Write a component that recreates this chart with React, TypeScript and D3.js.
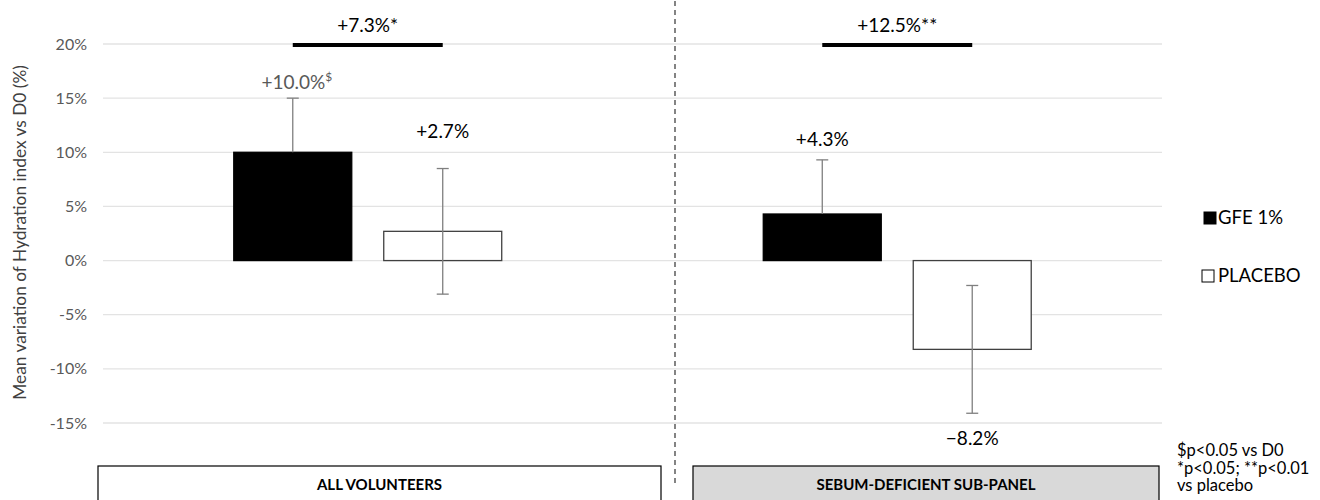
import * as d3 from "d3";
import * as React from "react";

// data
const groups = ["ALL VOLUNTEERS", "SEBUM-DEFICIENT SUB-PANEL"];
const series = ["GFE 1%", "PLACEBO"];
const gfeValues = [10.0, 4.3];
const gfeErrors = [5.0, 5.0];
const placeboValues = [2.7, -8.2];
const placeboErrors = [5.8, 5.9];
const valueLabels = [
  ["+10.0%", "+4.3%"],
  ["+2.7%", "\u22128.2%"],
];
// where each value label sits, in chart units (%)
const labelAnchors = [
  [15.8, 10.6],
  [11.3, -17.0],
];
const diffLabels = ["+7.3%*", "+12.5%**"];
const yTicks = [-15, -10, -5, 0, 5, 10, 15, 20];
const footnotes = ["$p<0.05 vs D0", "*p<0.05; **p<0.01", "vs placebo"];

const W = 1320;
const H = 500;
const font = "Lato, 'Open Sans', sans-serif";
const grey = "#595959";

export default function App() {
  const margin = { top: 44, right: 158, bottom: 77, left: 103 };
  const x0 = d3
    .scaleBand()
    .domain(groups)
    .range([margin.left, W - margin.right])
    .padding(0);
  const x1 = d3
    .scaleBand()
    .domain(series)
    .range([0, x0.bandwidth()])
    .paddingInner(0.2133)
    .paddingOuter(0.872);
  const y = d3.scaleLinear().domain([-15, 20]).range([H - margin.bottom, margin.top]);

  const vals = [gfeValues, placeboValues];
  const errs = [gfeErrors, placeboErrors];
  const fills = ["#000", "#fff"];
  const divX = 675;
  const boxes = [
    [98, 661],
    [693, 1159],
  ];

  const center = (g: string, s: string) =>
    (x0(g) as number) + (x1(s) as number) + x1.bandwidth() / 2;

  return (
    <svg
      width={W}
      height={H}
      style={{ position: "absolute", left: 0, top: 0, background: "#fff" }}
      fontFamily={font}
    >
      {/* grid */}
      {yTicks.map((t) => (
        <g key={t}>
          <line
            x1={margin.left}
            x2={W - margin.right}
            y1={y(t)}
            y2={y(t)}
            stroke="#e3e3e3"
            strokeWidth={1.3}
          />
          <text
            x={margin.left - 16}
            y={y(t)}
            dy="0.35em"
            textAnchor="end"
            fontSize={16}
            fill={grey}
          >
            {t + "%"}
          </text>
        </g>
      ))}

      <text
        transform={`translate(20,${y(2.6)}) rotate(-90)`}
        textAnchor="middle"
        dy="0.35em"
        fontSize={17.3}
        fill="#404040"
      >
        Mean variation of Hydration index vs D0 (%)
      </text>

      {/* divider */}
      <line
        x1={divX}
        x2={divX}
        y1={1}
        y2={483}
        stroke="#333"
        strokeWidth={1.2}
        strokeDasharray="5,4"
      />

      {/* bars + error bars (GFE only shows the upper half) */}
      {groups.map((g, gi) => (
        <g key={g}>
          {series.map((s, si) => {
            const v = vals[si][gi];
            const e = errs[si][gi];
            const bx = (x0(g) as number) + (x1(s) as number);
            const bw = x1.bandwidth();
            const cx = center(g, s);
            const lo = si === 0 ? v : v - e;
            return (
              <g key={s}>
                <rect
                  x={bx}
                  y={y(Math.max(0, v))}
                  width={bw}
                  height={Math.abs(y(v) - y(0))}
                  fill={fills[si]}
                  stroke={si === 0 ? "#000" : "#404040"}
                  strokeWidth={1.3}
                />
                <line x1={cx} x2={cx} y1={y(v + e)} y2={y(lo)} stroke="#7f7f7f" strokeWidth={1.3} />
                <line
                  x1={cx - 6}
                  x2={cx + 6}
                  y1={y(v + e)}
                  y2={y(v + e)}
                  stroke="#7f7f7f"
                  strokeWidth={1.3}
                />
                {si === 1 ? (
                  <line
                    x1={cx - 6}
                    x2={cx + 6}
                    y1={y(v - e)}
                    y2={y(v - e)}
                    stroke="#7f7f7f"
                    strokeWidth={1.3}
                  />
                ) : null}
              </g>
            );
          })}
        </g>
      ))}

      {/* value labels */}
      {groups.map((g, gi) =>
        series.map((s, si) => {
          const isFirst = gi === 0 && si === 0;
          return (
            <text
              key={g + s}
              x={center(g, s) + (isFirst ? 4 : 0)}
              y={y(labelAnchors[si][gi])}
              textAnchor="middle"
              fontSize={19}
              fill={isFirst ? grey : "#000"}
            >
              {valueLabels[si][gi]}
              {isFirst ? (
                <tspan fontSize={12} dy={-8}>
                  $
                </tspan>
              ) : null}
            </text>
          );
        })
      )}

      {/* significance bars */}
      {groups.map((g, gi) => {
        const xa = center(g, series[0]);
        const xb = center(g, series[1]);
        return (
          <g key={"sig" + g}>
            <line x1={xa} x2={xb} y1={y(20) + 1} y2={y(20) + 1} stroke="#000" strokeWidth={4} />
            <text x={(xa + xb) / 2} y={y(20) - 12} textAnchor="middle" fontSize={19} fill="#000">
              {diffLabels[gi]}
            </text>
          </g>
        );
      })}

      {/* group boxes */}
      {groups.map((g, gi) => {
        const [bx, bx2] = boxes[gi];
        return (
          <g key={"box" + g}>
            <rect
              x={bx}
              y={466}
              width={bx2 - bx}
              height={40}
              fill={gi === 0 ? "#fff" : "#d9d9d9"}
              stroke="#000"
              strokeWidth={1.2}
            />
            <text
              x={(bx + bx2) / 2}
              y={490}
              textAnchor="middle"
              fontSize={15}
              fontWeight="bold"
              fill="#000"
            >
              {g}
            </text>
          </g>
        );
      })}

      {/* legend */}
      {series.map((s, si) => (
        <g key={"leg" + s} transform={`translate(1202,${218 + si * 58})`}>
          <rect
            x={si === 0 ? 2 : 0}
            y={-6}
            width={12}
            height={12}
            fill={fills[si]}
            stroke="#000"
            strokeWidth={1}
          />
          <text x={16} y={0} dy="0.35em" fontSize={18.5} fill="#000">
            {s}
          </text>
        </g>
      ))}

      {/* footnotes */}
      {footnotes.map((f, i) => (
        <text key={f} x={1177} y={456 + i * 17.5} fontSize={16.5} fill="#000">
          {f}
        </text>
      ))}
    </svg>
  );
}
